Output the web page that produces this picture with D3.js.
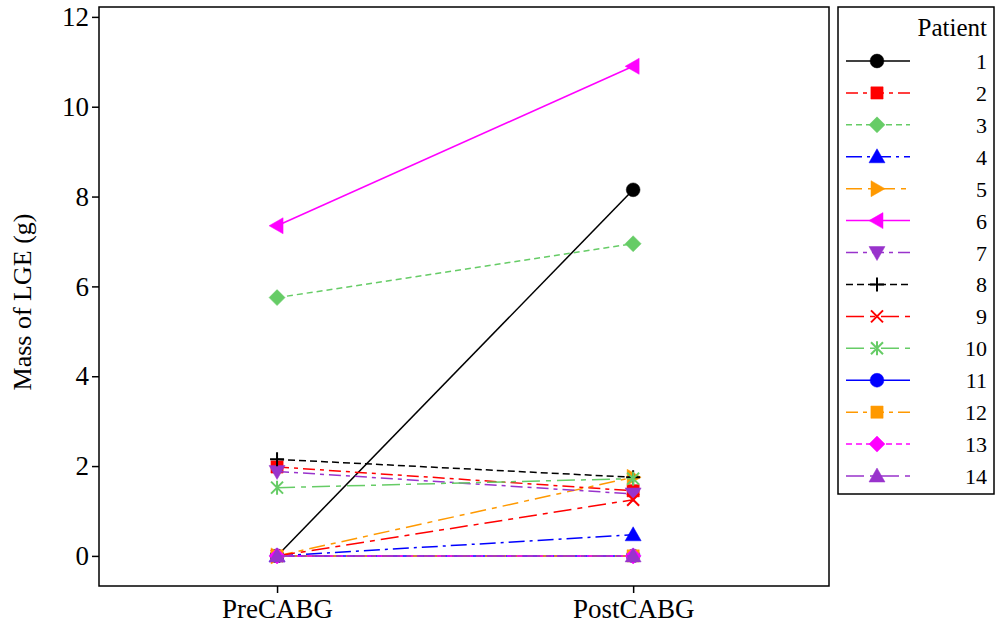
<!DOCTYPE html>
<html><head><meta charset="utf-8">
<script src="https://cdn.jsdelivr.net/npm/d3@7"></script>
<style>body{margin:0;background:#fff}svg{display:block}text{font-family:"Liberation Serif","Times New Roman",serif;fill:#000}</style>
</head><body><svg id="c" width="996" height="632"></svg>
<script>
const timepoints = ["PreCABG", "PostCABG"];
const patients = ["1","2","3","4","5","6","7","8","9","10","11","12","13","14"];
const preValues  = [0, 1.98, 5.75, 0, 0, 7.35, 1.88, 2.15, 0, 1.52, 0, 0, 0, 0];
const postValues = [8.15, 1.45, 6.95, 0.47, 1.75, 10.9, 1.38, 1.75, 1.25, 1.72, 0, 0, 0, 0];
const colors = ["#000000","#ff0000","#66cc66","#0000ff","#ff9900","#ff00ff","#9933cc","#000000","#ff0000","#66cc66","#0000ff","#ff9900","#ff00ff","#9933cc"];
const markers = ["circle","square","diamond","triUp","triRight","triLeft","triDown","plus","cross","asterisk","circle","square","diamond","triUp"];
const dashes = ["none","12,5,4,5","6,4","16,5,3,5","16,6,5,6","none","12,5,4,5","7,4","18,6,5,6","18,6,5,6","none","12,5,4,5","6,4","18,6,5,6"];
const yTicks = [0,2,4,6,8,10,12];

const svg = d3.select("#c");
const L=99, R=829, T=7, B=586;
const x = d3.scaleLinear().domain([0.5,2.55]).range([L,R]);
const y = d3.scaleLinear().domain([-0.67,12.22]).range([B,T]);

function markerPath(type){
  switch(type){
    case "circle": return d3.symbol(d3.symbolCircle,150)();
    case "square": return d3.symbol(d3.symbolSquare,150)();
    case "diamond": return "M0,-8L8,0L0,8L-8,0Z";
    case "triUp": return "M0,-8L8,6L-8,6Z";
    case "triDown": return "M0,8L8,-6L-8,-6Z";
    case "triRight": return "M8,0L-6,-8L-6,8Z";
    case "triLeft": return "M-8,0L6,-8L6,8Z";
    case "plus": return "M-7,0L7,0M0,-7L0,7";
    case "cross": return "M-6,-6L6,6M-6,6L6,-6";
    case "asterisk": return "M-6,-6L6,6M-6,6L6,-6M0,-7L0,7";
  }
}
const filled = t => !["plus","cross","asterisk"].includes(t);

svg.append("rect").attr("x",L).attr("y",T).attr("width",R-L).attr("height",B-T)
  .attr("fill","none").attr("stroke","#000").attr("stroke-width",1.5);

const yAxis = svg.append("g").attr("transform",`translate(${L},0)`)
  .call(d3.axisLeft(y).tickValues(yTicks).tickSize(7).tickPadding(3).tickFormat(d3.format("d")));
yAxis.select(".domain").remove();
yAxis.selectAll("line").attr("stroke-width",1.5);
yAxis.selectAll("text").style("font-size","27px").style("font-family","Liberation Serif");

const xAxis = svg.append("g").attr("transform",`translate(0,${B})`)
  .call(d3.axisBottom(x).tickValues([1,2]).tickSize(7).tickPadding(6).tickFormat((d,i)=>timepoints[i]));
xAxis.select(".domain").remove();
xAxis.selectAll("line").attr("stroke-width",1.5);
xAxis.selectAll("text").style("font-size","27px").style("font-family","Liberation Serif");

svg.append("text").attr("transform","translate(31,302) rotate(-90)").attr("text-anchor","middle")
  .style("font-size","26px").text("Mass of LGE (g)");

const plot = svg.append("g");
patients.forEach((p,i)=>{
  const pts = [[1,preValues[i]],[2,postValues[i]]];
  plot.append("path").datum(pts)
    .attr("d", d3.line().x(d=>x(d[0])).y(d=>y(d[1])))
    .attr("fill","none").attr("stroke",colors[i]).attr("stroke-width",1.5)
    .attr("stroke-dasharray",dashes[i]);
  pts.forEach(d=>{
    plot.append("path").attr("d",markerPath(markers[i]))
      .attr("transform",`translate(${x(d[0])},${y(d[1])})`)
      .attr("fill",filled(markers[i])?colors[i]:"none")
      .attr("stroke",colors[i]).attr("stroke-width",filled(markers[i])?0.5:2);
  });
});

const lg = svg.append("g");
lg.append("rect").attr("x",838).attr("y",7).attr("width",156).attr("height",487)
  .attr("fill","#fff").attr("stroke","#000").attr("stroke-width",1.5);
lg.append("text").attr("x",987).attr("y",36).attr("text-anchor","end").style("font-size","25px").text("Patient");
const ly = d3.scaleLinear().domain([0,13]).range([61,476]);
patients.forEach((p,i)=>{
  const yy = ly(i);
  lg.append("line").attr("x1",846).attr("x2",910).attr("y1",yy).attr("y2",yy)
    .attr("stroke",colors[i]).attr("stroke-width",1.5).attr("stroke-dasharray",dashes[i]);
  lg.append("path").attr("d",markerPath(markers[i])).attr("transform",`translate(877,${yy})`)
    .attr("fill",filled(markers[i])?colors[i]:"none")
    .attr("stroke",colors[i]).attr("stroke-width",filled(markers[i])?0.5:2);
  lg.append("text").attr("x",987).attr("y",yy+8).attr("text-anchor","end").style("font-size","22px").text(p);
});
</script></body></html>
